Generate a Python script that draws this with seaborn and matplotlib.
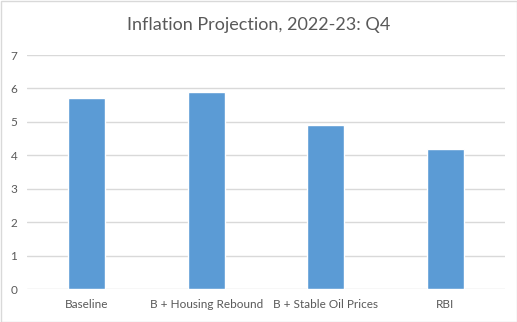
import matplotlib
matplotlib.use("Agg")
import matplotlib.pyplot as plt
import seaborn as sns
import pandas as pd
from matplotlib.patches import Rectangle

categories = ["Baseline", "B + Housing Rebound", "B + Stable Oil Prices", "RBI"]
values = [5.7, 5.9, 4.9, 4.2]
yticks = [0, 1, 2, 3, 4, 5, 6, 7]
title = "Inflation Projection, 2022-23: Q4"

sns.set_theme(style="white")
plt.rcParams['font.family'] = ['Lato', 'DejaVu Sans']

df = pd.DataFrame({"cat": categories, "val": values})

fig = plt.figure(figsize=(5.17, 3.22), dpi=100)
ax = fig.add_axes([27/517, 1-289/322, (505-27)/517, (289-55)/322])
sns.barplot(data=df, x="cat", y="val", color="#5B9BD5", saturation=1, width=0.31, ax=ax, zorder=3)

ax.set_ylim(0, 7)
ax.set_yticks(yticks)
ax.set_yticklabels([str(t) for t in yticks])
ax.set_xlim(-0.5, len(categories) - 0.5)
ax.yaxis.grid(True, color="#D9D9D9", linewidth=1)
ax.set_axisbelow(True)
for s in ax.spines.values():
    s.set_visible(False)
ax.tick_params(axis="both", length=0, labelsize=8.5, colors="#595959", pad=7)
ax.set_xlabel("")
ax.set_ylabel("")
fig.text(0.5, 1-25/322, title, fontsize=13, color="#595959", ha="center", va="center")

fig.patches.append(Rectangle((0.5/517, 0.5/322), 1-1/517, 1-1/322, transform=fig.transFigure,
                             fill=False, edgecolor="#D9D9D9", linewidth=1))
fig.savefig("out.png", dpi=100, facecolor="white")
